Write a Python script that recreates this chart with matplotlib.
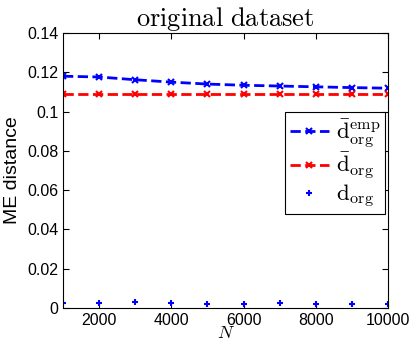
import matplotlib
matplotlib.use("Agg")
import matplotlib.pyplot as plt

plt.rcParams["mathtext.fontset"] = "cm"
plt.rcParams["font.family"] = ["Liberation Sans", "DejaVu Sans"]

N = [1000, 2000, 3000, 4000, 5000, 6000, 7000, 8000, 9000, 10000]
d_emp = [0.1180, 0.1176, 0.1162, 0.1150, 0.1140, 0.1134, 0.1130, 0.1126, 0.1122, 0.1119]
d_bar = [0.1092, 0.1092, 0.1092, 0.1092, 0.1092, 0.1092, 0.1092, 0.1092, 0.1092, 0.1092]
d_org = [0.0027, 0.0027, 0.0031, 0.0026, 0.0020, 0.0020, 0.0023, 0.0019, 0.0022, 0.0020]

fig = plt.figure(figsize=(4.15, 3.46), dpi=100)
ax = fig.add_axes([63 / 415, 1 - 308 / 346, 325 / 415, 275 / 346])

ax.plot(N, d_emp, "x--", color="blue", linewidth=2, markersize=4, markeredgewidth=1.5,
        label=r"$\bar{\mathrm{d}}_{\mathrm{org}}^{\mathrm{emp}}$")
ax.plot(N, d_bar, "x--", color="red", linewidth=2, markersize=4, markeredgewidth=1.5,
        label=r"$\bar{\mathrm{d}}_{\mathrm{org}}$")
ax.plot(N, d_org, "+", color="blue", markersize=5, markeredgewidth=1.5, linestyle="none",
        label=r"$\mathrm{d}_{\mathrm{org}}$")

ax.set_xlim(1000, 10000)
ax.set_ylim(0, 0.14)
ax.set_xticks([2000, 4000, 6000, 8000, 10000])
ax.set_yticks([0, 0.02, 0.04, 0.06, 0.08, 0.1, 0.12, 0.14])
ax.set_yticklabels(["0", "0.02", "0.04", "0.06", "0.08", "0.1", "0.12", "0.14"])
ax.tick_params(labelsize=11.5, direction="in", top=True, right=True, length=4)
ax.set_xlabel(r"$N$", fontsize=13, labelpad=-2)
ax.set_ylabel("ME distance", fontsize=14)
ax.set_title(r"$\mathrm{original\ dataset}$", fontsize=19, pad=5)

leg = ax.legend(loc="upper right", bbox_to_anchor=(0.997, 0.72), fontsize=16.5,
                fancybox=False, edgecolor="black", framealpha=1, numpoints=1,
                handlelength=1.7, labelspacing=0.05, borderpad=0.2, handletextpad=0.3,
                borderaxespad=0.1)
leg.get_frame().set_linewidth(0.8)

fig.savefig("out.png", dpi=100)
